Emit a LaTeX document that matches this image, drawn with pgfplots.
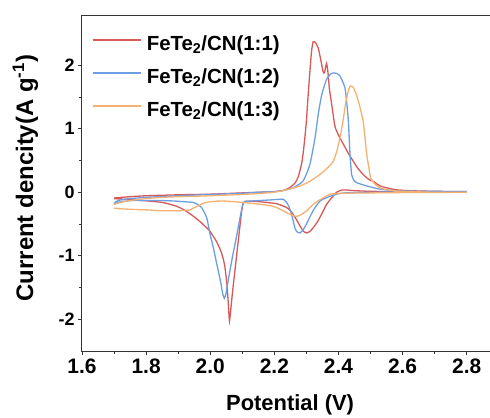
\documentclass[border=0pt]{standalone}
\usepackage{pgfplots}
\pgfplotsset{compat=1.18}
\usepackage{fontspec}
\setmainfont{Liberation Sans}
\definecolor{cred}{RGB}{216,88,88}
\definecolor{cblue}{RGB}{108,158,228}
\definecolor{corange}{RGB}{244,176,112}
\begin{document}
\begin{tikzpicture}
\begin{axis}[
  at={(0bp,0bp)}, anchor=south west,
  scale only axis, width=408bp, height=335bp,
  xmin=1.6, xmax=2.8727, ymin=-2.5, ymax=2.776,
  xtick={1.6,1.8,2.0,2.2,2.4,2.6,2.8}, ytick={-2,-1,0,1,2},
  minor x tick num=1, minor y tick num=1,
  xtick pos=bottom, ytick pos=left, tick align=outside,
  major tick length=4bp, minor tick length=3bp,
  axis line style={line width=1bp, black!80},
  every tick/.style={line width=0.8bp, black!80},
  /pgf/number format/assume math mode=true,
  x tick label style={font=\fontsize{21}{21}\selectfont\bfseries, /pgf/number format/.cd, fixed, fixed zerofill, precision=1},
  y tick label style={font=\fontsize{18}{18}\selectfont\bfseries},
  every axis x label/.style={at={(axis description cs:0.51,-0.179)}, anchor=base, font=\fontsize{22}{22}\selectfont\bfseries},
  every axis y label/.style={at={(axis description cs:-0.12,0.516)}, anchor=base, rotate=90, font=\fontsize{24}{24}\selectfont\bfseries},
  xlabel={Potential (V)},
  ylabel={Current dencity(A g\textsuperscript{-1})},
  legend cell align=left,
  legend image code/.code={\draw[#1, line width=1.3bp] (0bp,5.5bp) -- (48bp,5.5bp);},
  legend style={at={(axis description cs:0.0245,0.943)}, anchor=north west, draw=none, fill=none, inner sep=0pt, outer sep=0pt, row sep=12bp, column sep=5.5bp,
    nodes={inner sep=0pt, text height=15bp, text depth=6bp}, font=\fontsize{20.5}{20.5}\selectfont\bfseries},
  every axis plot/.append style={line width=1.3bp, smooth, tension=0.35},
]
\addplot[cred] coordinates {
(1.70,-0.09) (1.75,-0.07) (1.80,-0.055) (1.90,-0.04) (2.00,-0.03) (2.10,-0.01) (2.15,0.0) (2.20,0.01)
(2.23,0.03) (2.25,0.08) (2.265,0.15) (2.275,0.25) (2.285,0.45) (2.29,0.62) (2.295,0.85) (2.30,1.12)
(2.305,1.50) (2.311,1.91) (2.316,2.22) (2.321,2.37) (2.328,2.36) (2.337,2.27) (2.345,2.08) (2.352,1.90)
(2.356,1.88) (2.360,1.97) (2.363,2.03) (2.367,1.90) (2.372,1.62) (2.379,1.38) (2.389,1.04) (2.40,0.90)
(2.415,0.76) (2.43,0.62) (2.446,0.49) (2.46,0.38) (2.477,0.28) (2.495,0.20) (2.505,0.18) (2.515,0.15)
(2.53,0.10) (2.55,0.07) (2.58,0.04) (2.62,0.025) (2.70,0.015) (2.80,0.01)
(2.70,0.01) (2.60,0.01) (2.50,0.015) (2.45,0.025) (2.425,0.035) (2.41,0.035) (2.394,0.0) (2.38,-0.08)
(2.363,-0.19) (2.35,-0.32) (2.335,-0.46) (2.321,-0.56) (2.31,-0.62) (2.30,-0.64) (2.29,-0.61) (2.28,-0.53)
(2.27,-0.44) (2.259,-0.35) (2.248,-0.28) (2.238,-0.24) (2.207,-0.18) (2.155,-0.15) (2.11,-0.14) (2.103,-0.17)
(2.098,-0.3) (2.09,-0.65) (2.08,-1.1) (2.07,-1.55) (2.065,-1.8) (2.06,-2.03) (2.057,-1.8) (2.052,-1.45)
(2.045,-1.15) (2.035,-0.95) (2.02,-0.78) (2.00,-0.62) (1.989,-0.56) (1.97,-0.47) (1.958,-0.42) (1.94,-0.35)
(1.916,-0.27) (1.895,-0.22) (1.875,-0.19) (1.85,-0.16) (1.812,-0.14) (1.76,-0.12) (1.70,-0.10)
};
\addlegendentry{FeTe\textsubscript{2}/CN(1:1)}
\addplot[cblue] coordinates {
(1.70,-0.19) (1.705,-0.15) (1.72,-0.12) (1.75,-0.10) (1.80,-0.08) (1.90,-0.055) (2.00,-0.035) (2.10,-0.015)
(2.15,0.0) (2.20,0.01) (2.23,0.03) (2.259,0.07) (2.29,0.18) (2.311,0.44) (2.327,0.86) (2.337,1.23) (2.348,1.54)
(2.363,1.78) (2.375,1.86) (2.384,1.88) (2.395,1.87) (2.405,1.83) (2.42,1.65) (2.426,1.40) (2.431,1.12)
(2.436,0.60) (2.441,0.28) (2.448,0.19) (2.457,0.15) (2.475,0.12) (2.488,0.10) (2.529,0.05) (2.60,0.02) (2.80,0.01)
(2.60,0.005) (2.50,0.0) (2.42,-0.01) (2.394,-0.03) (2.37,-0.07) (2.342,-0.14) (2.321,-0.29) (2.30,-0.50)
(2.29,-0.59) (2.28,-0.64) (2.27,-0.62) (2.264,-0.56) (2.254,-0.35) (2.245,-0.22) (2.238,-0.16) (2.228,-0.11)
(2.218,-0.11) (2.19,-0.12) (2.155,-0.13) (2.12,-0.14) (2.106,-0.15) (2.10,-0.22) (2.09,-0.48) (2.08,-0.75)
(2.07,-1.0) (2.062,-1.22) (2.055,-1.42) (2.049,-1.60) (2.044,-1.67) (2.039,-1.60) (2.032,-1.40) (2.02,-1.12)
(2.01,-0.88) (1.999,-0.65) (1.989,-0.40) (1.973,-0.24) (1.96,-0.19) (1.947,-0.16) (1.92,-0.15) (1.895,-0.14) (1.843,-0.13)
(1.76,-0.13) (1.72,-0.15) (1.70,-0.19)
};
\addlegendentry{FeTe\textsubscript{2}/CN(1:2)}
\addplot[corange] coordinates {
(1.70,-0.19) (1.72,-0.16) (1.75,-0.13) (1.80,-0.10) (1.85,-0.08) (1.90,-0.07) (1.97,-0.06) (2.05,-0.045)
(2.10,-0.035) (2.15,-0.02) (2.197,0.0) (2.24,0.04) (2.28,0.10) (2.31,0.17) (2.342,0.28) (2.365,0.38)
(2.384,0.49) (2.395,0.65) (2.405,0.86) (2.415,1.15) (2.422,1.39) (2.43,1.58) (2.436,1.67) (2.445,1.66)
(2.455,1.55) (2.465,1.38) (2.477,1.12) (2.483,0.85) (2.488,0.60) (2.495,0.38) (2.50,0.23) (2.51,0.15)
(2.529,0.07) (2.56,0.03) (2.60,0.015) (2.70,0.0) (2.80,0.0)
(2.60,-0.005) (2.50,-0.01) (2.42,-0.015) (2.394,-0.02) (2.374,-0.03) (2.363,-0.06) (2.345,-0.11) (2.332,-0.15)
(2.315,-0.22) (2.301,-0.29) (2.285,-0.35) (2.27,-0.38) (2.255,-0.36) (2.238,-0.32) (2.207,-0.24) (2.186,-0.21)
(2.155,-0.19) (2.103,-0.16) (2.05,-0.14) (2.02,-0.14) (1.999,-0.15) (1.98,-0.17) (1.965,-0.21) (1.947,-0.25)
(1.937,-0.28) (1.906,-0.29) (1.87,-0.29) (1.843,-0.29) (1.812,-0.28) (1.76,-0.27) (1.72,-0.26) (1.70,-0.25)
};
\addlegendentry{FeTe\textsubscript{2}/CN(1:3)}
\end{axis}
\pgfresetboundingbox
\useasboundingbox (-82bp,-67bp) rectangle (408bp,351bp);
\end{tikzpicture}
\end{document}
